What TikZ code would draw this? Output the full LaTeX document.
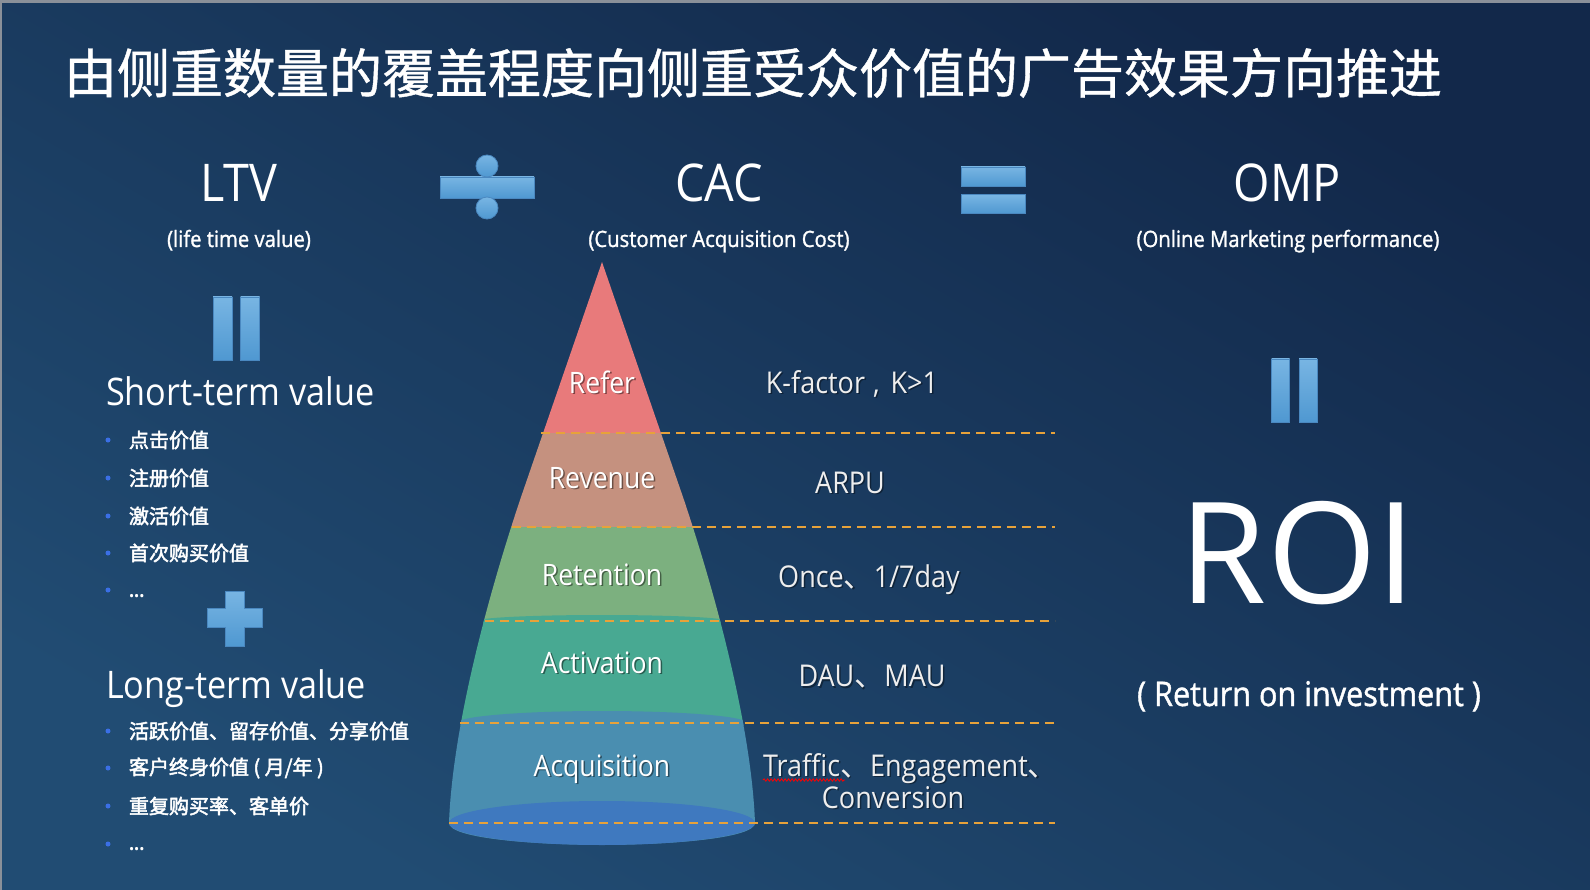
\documentclass[tikz,border=0pt]{standalone}
\usepackage{fontspec}
\setmainfont{Open Sans}[FakeStretch=0.9]
\newfontfamily\medfont{Open Sans}[FakeStretch=0.9, FakeBold=1.2]
\newfontfamily\widefont{Open Sans}
\newfontfamily\cjk{Noto Sans CJK SC}
\newfontfamily\cjkmed{Noto Sans CJK SC}[FakeBold=2.4]
\newfontfamily\cjktitle{Noto Sans CJK SC}[FakeBold=0.8]
\usetikzlibrary{decorations.pathmorphing}
\definecolor{bgtop}{HTML}{12284A}
\definecolor{bgbot}{HTML}{214C73}
\definecolor{opA}{HTML}{78B5E3}
\definecolor{opB}{HTML}{4F98D1}
\definecolor{opedge}{HTML}{4A88C0}
\definecolor{cRefer}{HTML}{E87A7B}
\definecolor{cRev}{HTML}{C5917F}
\definecolor{cRet}{HTML}{7CB07F}
\definecolor{cAct}{HTML}{48A992}
\definecolor{cAcq}{HTML}{4A8EB0}
\definecolor{cBase}{HTML}{3F79BF}
\definecolor{dashc}{HTML}{E7A23A}
\definecolor{bulletc}{HTML}{3B6FE6}
\definecolor{lblc}{HTML}{EEEEEE}
\definecolor{edgegray}{HTML}{8A9099}
\newcommand\fs[1]{\fontsize{#1}{#1}\selectfont}
\begin{document}
\begin{tikzpicture}[x=1pt,y=-1pt,
  every node/.style={inner sep=0pt, outer sep=0pt},
  opfill/.style={draw=opedge, line width=0.8pt, top color=opA, bottom color=opB},
  opbar/.style={opfill, rectangle},
  opdot/.style={opfill, circle},
  hdr/.style={text=white, font=\fs{52}, anchor=base},
  sub/.style={text=white, font=\medfont\fs{22.5}, anchor=base},
  big/.style={text=white, font=\fs{38}, anchor=base west},
  item/.style={text=white, font=\cjkmed\fs{20}, anchor=west},
  dots/.style={text=white, font=\bfseries\fs{20}, anchor=base west},
  bul/.style={circle, fill=bulletc, minimum size=5pt},
  pltext/.style={text=white, font=\fs{29.5}, anchor=base},
  plshadow/.style={text=black, opacity=0.45, font=\fs{29.5}, anchor=base, xshift=1.5pt, yshift=-1.5pt},
  rtext/.style={text=lblc, font=\fs{30}, anchor=base},
  rshadow/.style={text=black, opacity=0.4, font=\fs{30}, anchor=base, xshift=1.5pt, yshift=-1.5pt},
  dashline/.style={draw=dashc, line width=2pt, dash pattern=on 9pt off 6pt}
]
\useasboundingbox (0,0) rectangle (1590,890);
\shade[top color=bgtop, bottom color=bgbot, shading angle=-30] (0,0) rectangle (1590,890);
\fill[edgegray] (0,0) rectangle (1590,3);
\fill[edgegray] (0,0) rectangle (2,890);

% title
\node[text=white, font=\cjktitle\fs{53}, anchor=west] (title) at (64,73) {由侧重数量的覆盖程度向侧重受众价值的广告效果方向推进};

% headers
\node[hdr] (ltv) at (239,202) {LTV};
\node[sub] (ltvsub) at (239,247) {(life time value)};
\node[hdr] (cac) at (719,202) {CAC};
\node[sub] (cacsub) at (719,247) {(Customer Acquisition Cost)};
\node[hdr] (omp) at (1287,202) {OMP};
\node[sub] (ompsub) at (1288,247) {(Online Marketing performance)};

% operators
\node[opbar, minimum width=94pt, minimum height=21pt] (divbar) at (487,187.5) {};
\node[opdot, minimum size=22pt] (divtop) at (487,166) {};
\node[opdot, minimum size=22pt] (divbot) at (487,208) {};
\node[opbar, minimum width=64pt, minimum height=19pt] (eqa) at (993,176.5) {};
\node[opbar, minimum width=64pt, minimum height=19pt] (eqb) at (993,204) {};
\node[opbar, minimum width=19pt, minimum height=63pt] (ltveqa) at (222.5,328.5) {};
\node[opbar, minimum width=19pt, minimum height=63pt] (ltveqb) at (250,328.5) {};
\node[opbar, minimum width=18pt, minimum height=63pt] (roieqa) at (1280.5,390.5) {};
\node[opbar, minimum width=18pt, minimum height=63pt] (roieqb) at (1308,390.5) {};
\shade[opfill] (225,591) -- (244,591) -- (244,608.5) -- (262,608.5) -- (262,627.5) -- (244,627.5) -- (244,646) -- (225,646) -- (225,627.5) -- (207,627.5) -- (207,608.5) -- (225,608.5) -- cycle;

% left column
\node[big] (short) at (106,406) {Short-term value};
\node[bul] (b1) at (108,440) {}; \node[item] (t1) at (129,440) {点击价值};
\node[bul] (b2) at (108,478) {}; \node[item] (t2) at (129,478) {注册价值};
\node[bul] (b3) at (108,516) {}; \node[item] (t3) at (129,516) {激活价值};
\node[bul] (b4) at (108,553) {}; \node[item] (t4) at (129,553) {首次购买价值};
\node[bul] (b5) at (108,590) {}; \node[dots] (t5) at (129,597) {...};

\node[big] (long) at (106,698) {Long-term value};
\node[bul] (c1) at (108,731) {}; \node[item] (u1) at (129,731) {活跃价值、留存价值、分享价值};
\node[bul] (c2) at (108,768) {}; \node[item] (u2) at (129,768) {客户终身价值 ( 月/年 )};
\node[bul] (c3) at (108,806) {}; \node[item] (u3) at (129,806) {重复购买率、客单价};
\node[bul] (c4) at (108,844) {}; \node[dots] (u4) at (129,850) {...};

% pyramid
\begin{scope}
\clip (602,262) -- (684,500) .. controls (724,620) and (752,740) .. (755,823) .. controls (755,852) and (449,852) .. (449,823) .. controls (452,740) and (480,620) .. (520,500) -- cycle;
\fill[cRefer] (400,250) rectangle (800,433);
\fill[cRev] (400,433) rectangle (800,527);
\fill[cRet] (400,527) rectangle (800,621);
\fill[cAct] (400,621) rectangle (800,723);
\fill[cAct] (602,621) ellipse [x radius=125, y radius=6];
\fill[cAcq] (400,723) rectangle (800,870);
\fill[cAcq] (602,723) ellipse [x radius=145, y radius=12];
\end{scope}
\fill[cBase] (602,823) ellipse [x radius=153, y radius=22];

% dashed separators
\coordinate (d1a) at (541,433); \coordinate (d1b) at (1055,433);
\coordinate (d2a) at (512,527); \coordinate (d2b) at (1055,527);
\coordinate (d3a) at (485,621); \coordinate (d3b) at (1055,621);
\coordinate (d4a) at (460,723); \coordinate (d4b) at (1055,723);
\coordinate (d5a) at (449,823); \coordinate (d5b) at (1055,823);
\draw[dashline] (d1a) -- (d1b);
\draw[dashline] (d2a) -- (d2b);
\draw[dashline] (d3a) -- (d3b);
\draw[dashline] (d4a) -- (d4b);
\draw[dashline] (d5a) -- (d5b);

% pyramid labels
\node[plshadow] at (602,393.5) {Refer};
\node[pltext] (refer) at (602,393.5) {Refer};
\node[plshadow] at (602,488) {Revenue};
\node[pltext] (revenue) at (602,488) {Revenue};
\node[plshadow] at (602,585) {Retention};
\node[pltext] (retention) at (602,585) {Retention};
\node[plshadow] at (602,673) {Activation};
\node[pltext] (activation) at (602,673) {Activation};
\node[plshadow] at (602,776) {Acquisition};
\node[pltext] (acquisition) at (602,776) {Acquisition};

% right labels
\node[rshadow] at (852,393.5) {K-factor\hspace{8pt},\hspace{11pt}K>1};
\node[rtext] (kf) at (852,393.5) {K-factor\hspace{8pt},\hspace{11pt}K>1};
\node[rshadow] at (850,493) {ARPU};
\node[rtext] (arpu) at (850,493) {ARPU};
\node[rshadow] at (869,587) {Once{\cjk 、}1/7day};
\node[rtext] (once) at (869,587) {Once{\cjk 、}1/7day};
\node[rshadow] at (872,686.5) {DAU{\cjk 、}MAU};
\node[rtext] (dau) at (872,686.5) {DAU{\cjk 、}MAU};
\node[rshadow, anchor=base west] at (763,776) {Traffic{\cjk 、}Engagement{\cjk 、}};
\node[rtext, anchor=base west] (traffic) at (763,776) {Traffic{\cjk 、}Engagement{\cjk 、}};
\node[rshadow] at (893,808) {Conversion};
\node[rtext] (conv) at (893,808) {Conversion};
\draw[red, line width=0.8pt, decorate, decoration={snake, amplitude=1.2pt, segment length=3.5pt}] (763,780) -- (845,780);

% ROI
\node[text=white, font=\widefont\fs{141}, anchor=base] (roi) at (1298,603) {ROI};
\node[text=white, font=\medfont\fs{34}, anchor=base] (roisub) at (1309,706) {( Return on investment )};
\end{tikzpicture}
\end{document}
